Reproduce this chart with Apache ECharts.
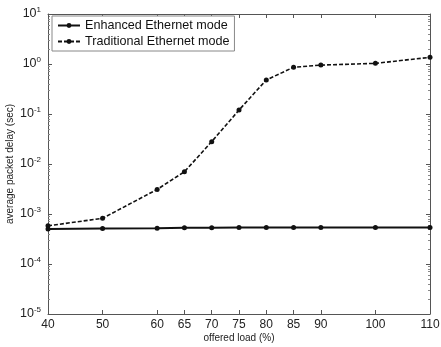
<!DOCTYPE html>
<html>
<head>
<meta charset="utf-8">
<script src="https://cdn.jsdelivr.net/npm/echarts@6/dist/echarts.min.js"></script>
<style>
  html, body { margin: 0; padding: 0; background: #fff; }
  #chart { width: 441px; height: 347px; }
</style>
</head>
<body>
<div id="chart"></div>
<script>
// offered load (%) and delay (sec)
const loads = [40, 50, 60, 65, 70, 75, 80, 85, 90, 100, 110];
const enhancedDelay = [5.0e-4, 5.1e-4, 5.2e-4, 5.3e-4, 5.3e-4, 5.4e-4, 5.4e-4, 5.4e-4, 5.4e-4, 5.4e-4, 5.4e-4];
const traditionalDelay = [5.8e-4, 8.2e-4, 3.1e-3, 7.0e-3, 2.8e-2, 0.12, 0.48, 0.86, 0.95, 1.03, 1.36];
const xTicks = [40, 50, 60, 65, 70, 75, 80, 85, 90, 100, 110];

const pairs = (ys) => loads.map((x, i) => [x, ys[i]]);

const chart = echarts.init(document.getElementById('chart'));
const font = 'Liberation Sans, Arial, sans-serif';
const axisColor = '#555';

// 10^n tick labels with a raised exponent
const powLabel = (v) => {
  const e = Math.round(Math.log10(v));
  return '{b|10}{s|' + e + '}';
};

const option = {
  animation: false,
  backgroundColor: '#fff',
  textStyle: { fontFamily: font },
  grid: { left: 48, right: 11, top: 14, bottom: 33, outerBoundsMode: 'none', containLabel: false },
  legend: {
    left: 52,
    top: 16,
    orient: 'vertical',
    backgroundColor: '#fff',
    borderColor: '#888',
    borderWidth: 1,
    borderRadius: 0,
    padding: [3, 5, 3, 5],
    itemGap: 3,
    itemWidth: 22,
    itemHeight: 6,
    textStyle: { fontFamily: font, fontSize: 12.6, color: '#111' },
    data: ['Enhanced Ethernet mode', 'Traditional Ethernet mode'],
  },
  xAxis: [
    {
      type: 'value',
      min: 40,
      max: 110,
      interval: 5,
      name: 'offered load (%)',
      nameLocation: 'middle',
      nameGap: 19,
      nameMoveOverlap: false,
      nameTextStyle: { fontFamily: font, fontSize: 10, color: '#222' },
      axisLine: { lineStyle: { color: axisColor, width: 1 } },
      axisTick: { inside: true, length: 4, customValues: xTicks, lineStyle: { color: axisColor } },
      axisLabel: { customValues: xTicks, fontFamily: font, fontSize: 12, color: '#222', margin: 5 },
      splitLine: { show: false },
    },
    {
      type: 'value',
      position: 'top',
      min: 40,
      max: 110,
      interval: 5,
      axisLine: { show: true, lineStyle: { color: axisColor, width: 1 } },
      axisTick: { inside: true, length: 4, customValues: xTicks, lineStyle: { color: axisColor } },
      axisLabel: { show: false },
      splitLine: { show: false },
    },
  ],
  yAxis: [
    {
      type: 'log',
      logBase: 10,
      min: 1e-5,
      max: 10,
      name: 'average packet delay (sec)',
      nameLocation: 'middle',
      nameGap: 33,
      nameMoveOverlap: false,
      nameTextStyle: { fontFamily: font, fontSize: 10, color: '#222' },
      axisLine: { show: true, lineStyle: { color: axisColor, width: 1 } },
      axisTick: { inside: true, length: 4, lineStyle: { color: axisColor } },
      minorTick: { show: true, splitNumber: 9, length: 2, lineStyle: { color: '#888' } },
      axisLabel: {
        formatter: powLabel,
        margin: 7,
        rich: {
          b: { fontFamily: font, fontSize: 12.5, color: '#222' },
          s: { fontFamily: font, fontSize: 8, color: '#222', padding: [0, 0, 8, 0] },
        },
      },
      splitLine: { show: false },
    },
    {
      type: 'log',
      logBase: 10,
      min: 1e-5,
      max: 10,
      position: 'right',
      axisLine: { show: true, lineStyle: { color: axisColor, width: 1 } },
      axisTick: { inside: true, length: 4, lineStyle: { color: axisColor } },
      minorTick: { show: true, splitNumber: 9, length: 2, lineStyle: { color: '#888' } },
      axisLabel: { show: false },
      splitLine: { show: false },
    },
  ],
  series: [
    {
      name: 'Enhanced Ethernet mode',
      type: 'line',
      data: pairs(enhancedDelay),
      symbol: 'circle',
      symbolSize: 5,
      lineStyle: { color: '#111', width: 2 },
      itemStyle: { color: '#111' },
    },
    {
      name: 'Traditional Ethernet mode',
      type: 'line',
      data: pairs(traditionalDelay),
      symbol: 'circle',
      symbolSize: 5,
      lineStyle: { color: '#111', width: 1.6, type: [4, 2] },
      itemStyle: { color: '#111' },
    },
  ],
};

chart.setOption(option);
</script>
</body>
</html>
